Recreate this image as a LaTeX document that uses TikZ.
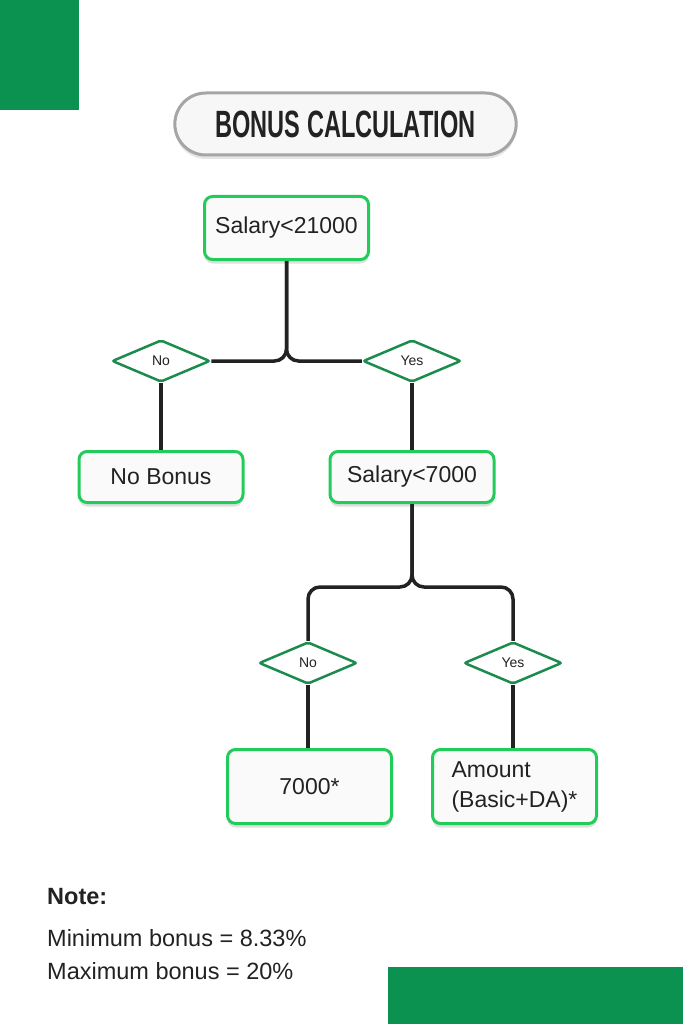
\documentclass[tikz,border=0pt]{standalone}
\usepackage{fontspec}
\usepackage{graphicx}
\setmainfont{Liberation Sans}
\usetikzlibrary{positioning,shapes.geometric,shapes.misc,shadows}

\definecolor{cornergreen}{RGB}{12,146,80}
\definecolor{boxgreen}{RGB}{34,204,90}
\definecolor{choicegreen}{RGB}{28,140,78}
\definecolor{wirecol}{RGB}{34,34,34}
\definecolor{pillgray}{RGB}{165,165,165}

\begin{document}
\begin{tikzpicture}[x=1pt,y=-1pt,
  box/.style={draw=boxgreen,line width=3pt,rounded corners=8pt,fill=white!98!black,
    minimum width=164pt,text=wirecol,font=\fontsize{23}{30}\selectfont,
    drop shadow={shadow xshift=0pt,shadow yshift=-4pt,opacity=0.25}},
  choice/.style={diamond,draw=choicegreen,line width=2.5pt,rounded corners=2pt,fill=white,
    minimum width=98pt,minimum height=42pt,inner sep=0pt,
    font=\fontsize{14}{16}\selectfont,text=wirecol},
  wire/.style={draw=wirecol,line width=3.5pt,rounded corners=12pt},
  notetext/.style={anchor=base west,inner sep=0pt,text=wirecol,font=\fontsize{23.5}{28}\selectfont}]

  \useasboundingbox (0,0) rectangle (683,1024);
  \fill[white] (0,0) rectangle (683,1024);

  % Corner blocks
  \fill[cornergreen] (0,0) rectangle (79,110);
  \fill[cornergreen] (388,967) rectangle (683,1024);

  % Title
  \node[rounded rectangle,draw=pillgray,line width=3pt,fill=white!97!black,
    minimum width=348pt,minimum height=62pt,
    drop shadow={shadow xshift=0pt,shadow yshift=-4pt,opacity=0.2}] (title) at (345.5,124)
    {\textcolor{wirecol}{\scalebox{0.62}[1]{\fontsize{38}{40}\selectfont\bfseries BONUS CALCULATION}}};

  % First test
  \node[box,minimum height=63pt] (b1) at (286.5,228) {Salary<21000};
  \node[choice] (d1) at (161,361) {No};
  \node[choice] (d2) at (412,361) {Yes};
  \node[box,minimum height=51pt] (b2) at (161,477) {No Bonus};
  \node[box,minimum height=51pt] (b3) at (412,477) {Salary<7000};

  % Second test
  \coordinate (j2) at (412,587);
  \node[choice] (d3) at (308,663) {No};
  \node[choice] (d4) at (513,663) {Yes};
  \node[box,minimum height=74pt] (b4) at (309.5,786.5) {7000*};
  \node[box,minimum height=74pt,align=left] (b5) at (514.5,786.5) {Amount\\(Basic+DA)*};

  \draw[wire] (b1.south) |- (d1.east);
  \draw[wire] (b1.south) |- (d2.west);
  \draw[wire] (d1.south) -- (b2.north);
  \draw[wire] (d2.south) -- (b3.north);
  \draw[wire] (b3.south) |- (j2 -| d3.north) -- (d3.north);
  \draw[wire] (b3.south) |- (j2 -| d4.north) -- (d4.north);
  \draw[wire] (d3.south) -- (d3.south |- b4.north);
  \draw[wire] (d4.south) -- (d4.south |- b5.north);

  % Note
  \node[notetext,font=\fontsize{23.5}{28}\selectfont\bfseries] (note) at (47,904) {Note:};
  \node[notetext] (nmin) at (47,946) {Minimum bonus = 8.33\%};
  \node[notetext] (nmax) at (47,979) {Maximum bonus = 20\%};

\end{tikzpicture}
\end{document}
